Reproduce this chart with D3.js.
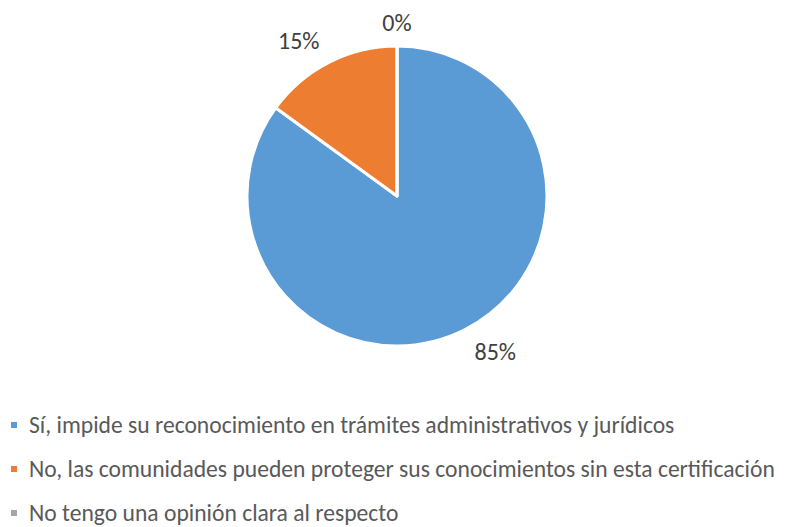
<!DOCTYPE html>
<html>
<head>
<meta charset="utf-8">
<script src="https://cdn.jsdelivr.net/npm/d3@7"></script>
<style>
  body { margin: 0; background: #fff; }
  svg { display: block; font-family: Carlito, Lato, "Open Sans", sans-serif; }
</style>
</head>
<body>
<svg id="chart"></svg>
<script>
// data
const categories = [
    "Sí, impide su reconocimiento en trámites administrativos y jurídicos",
    "No, las comunidades pueden proteger sus conocimientos sin esta certificación",
    "No tengo una opinión clara al respecto"
];
const values = [85, 15, 0];
const labels = ["85%", "15%", "0%"];
const colors = ["#5B9BD5", "#ED7D31", "#A5A5A5"];

const width = 791, height = 527;
const cx = 397, cy = 196, radius = 150;

const svg = d3.select("#chart")
    .attr("width", width)
    .attr("height", height);

const data = categories.map((c, i) => ({ cat: c, value: values[i], label: labels[i] }));

const pie = d3.pie().value(d => d.value).sort(null);
const arc = d3.arc().innerRadius(0).outerRadius(radius);
const arcs = pie(data);

const colorScale = d3.scaleOrdinal().domain(categories).range(colors);

const chart = svg.append("g")
    .attr("transform", `translate(${cx},${cy})`);

chart.selectAll(".slice")
    .data(arcs)
    .join("path")
    .attr("class", "slice")
    .attr("d", arc)
    .attr("fill", d => colorScale(d.data.cat))
    .attr("stroke", "#fff")
    .attr("stroke-width", 3)
    .attr("stroke-linejoin", "round");

// data labels: box sits just outside the pie edge at the slice's mid angle
const lbl = chart.selectAll(".lbl")
    .data(arcs)
    .join("text")
    .attr("class", "lbl")
    .attr("font-size", 24)
    .attr("fill", "#404040")
    .attr("text-anchor", "middle")
    .attr("dominant-baseline", "central")
    .text(d => d.data.label);

lbl.each(function(d) {
    const bb = this.getBBox();
    const a = (d.startAngle + d.endAngle) / 2;
    const s = Math.sin(a), c = -Math.cos(a);
    const r = radius + 12;
    const sx = Math.abs(s) < 0.05 ? 0 : Math.sign(s);
    const sy = Math.abs(c) < 0.05 ? 0 : Math.sign(c);
    d3.select(this)
        .attr("x", s * r + sx * bb.width / 2 + sx * 4)
        .attr("y", c * r + sy * bb.height / 2 * 0.8);
});

// legend
const legend = svg.append("g").attr("transform", "translate(11,0)");
const legY = d3.scalePoint().domain(categories).range([425, 513]);

const items = legend.selectAll(".item")
    .data(categories)
    .join("g")
    .attr("class", "item")
    .attr("transform", d => `translate(0,${legY(d)})`);

items.append("rect")
    .attr("x", 0)
    .attr("y", -3)
    .attr("width", 6)
    .attr("height", 6)
    .attr("fill", d => colorScale(d));

const txt = items.append("text")
    .attr("x", 18)
    .attr("y", 0)
    .attr("dominant-baseline", "central")
    .attr("font-size", 20)
    .attr("fill", "#595959")
    .text(d => d);

// fit legend font so the long line spans as in the original
const w = txt.nodes()[1].getComputedTextLength();
txt.attr("font-size", 20 * 746 / w);
</script>
</body>
</html>
